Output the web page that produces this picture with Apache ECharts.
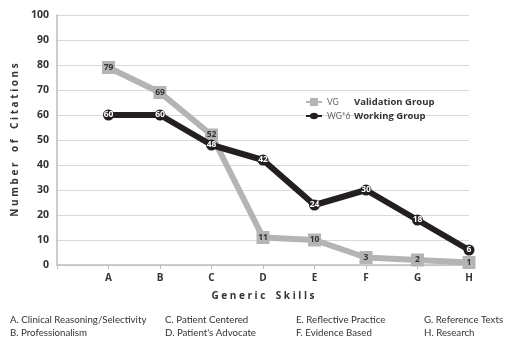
<!DOCTYPE html>
<html>
<head>
<meta charset="utf-8">
<script src="https://cdn.jsdelivr.net/npm/echarts@6/dist/echarts.min.js"></script>
<style>html,body{margin:0;padding:0;background:#fff}#chart{width:516px;height:349px}</style>
</head>
<body>
<div id="chart"></div>
<script>
// Generic skill categories and citation counts
const categories = ['A', 'B', 'C', 'D', 'E', 'F', 'G', 'H'];
const vgValues = [79, 69, 52, 11, 10, 3, 2, 1];
const wgValues = [60, 60, 48, 42, 24, 30, 18, 6];
const seriesNames = ['VG', 'WG*6'];
const groupNames = ['Validation Group', 'Working Group'];
const yTicks = { min: 0, max: 100, step: 10 };
const skillKey = [
  ['A. Clinical Reasoning/Selectivity', 'B. Professionalism'],
  ['C. Patient Centered', "D. Patient's Advocate"],
  ['E. Reflective Practice', 'F. Evidence Based'],
  ['G. Reference Texts', 'H. Research']
];

const spaced = s => s.split('').join(' ').replace(/   /g, '    ');
const font = 'Open Sans, Noto Sans, sans-serif';
const keyFont = 'Lato, Noto Sans, sans-serif';
const keyX = [10, 165, 296, 424];
const keyText = [];
skillKey.forEach((col, i) => {
  col.forEach((t, j) => {
    keyText.push({
      type: 'text', left: keyX[i], top: 315 + j * 13,
      style: { text: t, font: '9.7px ' + keyFont, fill: '#333' }
    });
  });
});

const chart = echarts.init(document.getElementById('chart'));
chart.setOption({
  animation: false,
  grid: { left: 57, right: 47, top: 15, bottom: 84 },
  legend: {
    left: 301, top: 92, orient: 'vertical',
    itemWidth: 16, itemHeight: 8, itemGap: 4,
    data: [
      { name: seriesNames[0], icon: 'path://M0,3L4,3L4,0L12,0L12,3L16,3L16,5L12,5L12,8L4,8L4,5L0,5Z' },
      { name: seriesNames[1], icon: 'path://M0,3L4,3C5,0 11,0 12,3L16,3L16,5L12,5C11,8 5,8 4,5L0,5Z' }
    ],
    formatter: name => '{a|' + name + '}{b|' + groupNames[seriesNames.indexOf(name)] + '}',
    textStyle: {
      rich: {
        a: { width: 27, fontSize: 8.5, fontFamily: keyFont, color: '#666' },
        b: { fontSize: 9.5, fontWeight: 'bold', fontFamily: font, color: '#333' }
      }
    }
  },
  xAxis: {
    type: 'category',
    boundaryGap: false,
    data: [''].concat(categories),
    name: spaced('Generic Skills'),
    nameLocation: 'middle', nameGap: 26,
    nameTextStyle: { fontSize: 10, fontWeight: 'bold', fontFamily: font, color: '#333' },
    axisLine: { lineStyle: { color: '#bdbdbd', width: 1.5 } },
    axisTick: { show: true, alignWithLabel: true, length: 4, lineStyle: { color: '#bdbdbd' } },
    axisLabel: { fontSize: 10, fontWeight: 'bold', fontFamily: font, color: '#333', margin: 8 },
    splitLine: { show: false }
  },
  yAxis: {
    type: 'value',
    min: yTicks.min, max: yTicks.max, interval: yTicks.step,
    name: spaced('Number of Citations'),
    nameLocation: 'middle', nameGap: 30, nameRotate: 90,
    nameTextStyle: { fontSize: 10, fontWeight: 'bold', fontFamily: font, color: '#333' },
    axisLine: { show: true, lineStyle: { color: '#bdbdbd', width: 1.5 } },
    axisTick: { show: false },
    axisLabel: { fontSize: 10.5, fontWeight: 'bold', fontFamily: font, color: '#333', margin: 8 },
    splitLine: { lineStyle: { color: '#d9d9d9', width: 1 } }
  },
  series: [
    {
      name: seriesNames[0], type: 'line',
      data: [null].concat(vgValues),
      symbol: 'rect', symbolSize: 13, showAllSymbol: true,
      lineStyle: { color: '#b4b4b4', width: 6 },
      itemStyle: { color: '#b4b4b4' },
      label: { show: true, position: 'inside', fontSize: 8.5, fontWeight: 'bold', fontFamily: font, color: '#333' },
      z: 2
    },
    {
      name: seriesNames[1], type: 'line',
      data: [null].concat(wgValues),
      symbol: 'circle', symbolSize: 11, showAllSymbol: true,
      lineStyle: { color: '#231f20', width: 6 },
      itemStyle: { color: '#231f20' },
      label: { show: true, position: 'inside', fontSize: 8.5, fontWeight: 'bold', fontFamily: font, color: '#fff' },
      z: 3
    }
  ],
  graphic: keyText
});
</script>
</body>
</html>
